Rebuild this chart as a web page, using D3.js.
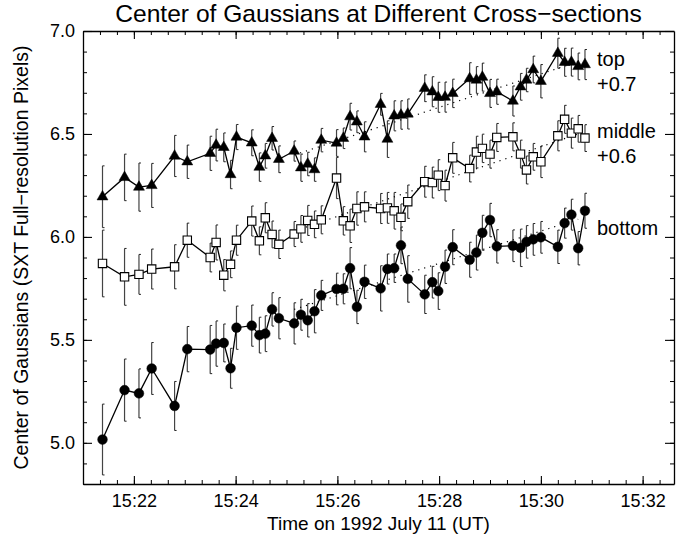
<!DOCTYPE html>
<html>
<head>
<meta charset="utf-8">
<script src="https://cdn.jsdelivr.net/npm/d3@7"></script>
<style>
  body { margin: 0; background: #fff; }
  text { font-family: "Liberation Sans", Arial, Helvetica, sans-serif; fill: #000; }
</style>
</head>
<body>
<svg id="chart" width="683" height="536"></svg>
<script>
// observation times (UT, 1992 July 11)
const times = [
  "15:21:23", "15:21:49", "15:22:06", "15:22:21", "15:22:48", "15:23:03", "15:23:30", "15:23:37",
  "15:23:46", "15:23:54", "15:24:01", "15:24:19", "15:24:28", "15:24:35", "15:24:43", "15:24:51",
  "15:25:09", "15:25:17", "15:25:25", "15:25:33", "15:25:41", "15:25:59", "15:26:07", "15:26:15",
  "15:26:23", "15:26:32", "15:26:51", "15:26:59", "15:27:07", "15:27:15", "15:27:23", "15:27:43",
  "15:27:52", "15:27:59", "15:28:07", "15:28:16", "15:28:36", "15:28:44", "15:28:51", "15:29:00",
  "15:29:08", "15:29:27", "15:29:36", "15:29:43", "15:29:51", "15:30:00", "15:30:20", "15:30:28",
  "15:30:36", "15:30:44", "15:30:52"
];

// centre of gaussians, raw values (offsets added when drawn)
const topVals = [
  5.495, 5.589, 5.542, 5.550, 5.693, 5.665, 5.706, 5.746, 5.735, 5.603, 5.785, 5.757, 5.639,
  5.694, 5.779, 5.677, 5.717, 5.636, 5.654, 5.627, 5.770, 5.756, 5.779, 5.884, 5.859, 5.786,
  5.944, 5.775, 5.888, 5.892, 5.897, 6.022, 6.005, 5.978, 5.979, 5.997, 6.069, 6.062, 6.076,
  5.997, 6.005, 5.960, 6.029, 6.062, 6.113, 6.056, 6.192, 6.148, 6.149, 6.128, 6.137
];
const middleVals = [
  5.271, 5.206, 5.218, 5.244, 5.255, 5.384, 5.300, 5.373, 5.214, 5.267, 5.384, 5.477, 5.381,
  5.493, 5.412, 5.364, 5.414, 5.439, 5.480, 5.461, 5.483, 5.686, 5.478, 5.454, 5.538, 5.546,
  5.538, 5.541, 5.527, 5.495, 5.571, 5.668, 5.664, 5.700, 5.649, 5.784, 5.732, 5.812, 5.830,
  5.802, 5.883, 5.886, 5.802, 5.725, 5.789, 5.765, 5.891, 5.971, 5.904, 5.925, 5.880
];
const bottomVals = [
  5.016, 5.256, 5.240, 5.361, 5.179, 5.455, 5.453, 5.482, 5.485, 5.362, 5.559, 5.569, 5.523,
  5.530, 5.648, 5.605, 5.580, 5.622, 5.595, 5.639, 5.716, 5.747, 5.748, 5.848, 5.660, 5.782,
  5.750, 5.844, 5.848, 5.959, 5.796, 5.721, 5.780, 5.737, 5.855, 5.950, 5.889, 5.924, 6.020,
  6.082, 5.954, 5.957, 5.947, 5.976, 5.988, 5.998, 5.952, 6.067, 6.108, 5.945, 6.127
];

// 1-sigma errors
const topErr = [
  .150, .113, .117, .107, .100, .081, .083, .077, .070, .069, .061, .063, .069, .060, .057, .065,
  .049, .066, .057, .057, .057, .065, .050, .065, .053, .073, .053, .089, .073, .069, .073, .065,
  .073, .073, .073, .069, .077, .065, .068, .068, .061, .073, .065, .057, .065, .081, .073, .068,
  .068, .065, .073
];
const middleErr = [
  .162, .138, .097, .097, .107, .083, .070, .085, .076, .065, .073, .073, .068, .073, .065, .069,
  .061, .065, .073, .065, .068, .100, .069, .081, .081, .073, .073, .075, .089, .065, .081, .075,
  .075, .075, .075, .075, .065, .077, .069, .068, .068, .068, .068, .068, .065, .077, .073, .068,
  .073, .065, .065
];
const bottomErr = [
  .172, .151, .119, .126, .119, .110, .117, .110, .092, .097, .105, .100, .087, .087, .081, .100,
  .100, .075, .081, .105, .073, .077, .073, .100, .081, .081, .110, .073, .069, .089, .113, .093,
  .077, .089, .081, .085, .085, .085, .085, .081, .081, .077, .091, .079, .077, .077, .081, .073,
  .075, .081, .085
];

// linear fits (dotted), raw values at start and end time
const fitTimes = ["15:25:09", "15:30:44"];
const topFit = [5.698, 6.151];
const middleFit = [5.428, 5.900];
const bottomFit = [5.648, 6.086];

const topOffset = 0.7;
const middleOffset = 0.6;

const yTicks = [5.0, 5.5, 6.0, 6.5, 7.0];

const parse = d3.timeParse("%H:%M:%S");

let margin = { left: 83, right: 9, top: 31, bottom: 52 };
let width = 683, height = 536;

let svg = d3.select("#chart");

let x = d3.scaleTime()
  .domain([parse("15:21:00"), parse("15:32:37")])
  .range([margin.left, width - margin.right]);

let y = d3.scaleLinear()
  .domain([4.8, 7.0])
  .range([height - margin.bottom, margin.top]);

let x0 = margin.left, x1 = width - margin.right;
let y0 = height - margin.bottom, y1 = margin.top;

// ticks
let majorX = d3.timeMinute.every(2).range(parse("15:21:00"), parse("15:33:00"));
let minorX = d3.timeSecond.every(20).range(parse("15:21:00"), parse("15:32:38"));
let minorY = d3.range(48, 71).map(d => d / 10);

function styleAxis(g) {
  g.select(".domain").attr("stroke", "#000").attr("stroke-width", 1.3);
  g.selectAll(".tick line").attr("stroke", "#000").attr("stroke-width", 1.1);
  g.selectAll(".tick text")
    .attr("font-size", 18)
    .attr("font-family", "Liberation Sans, Arial, sans-serif")
    .attr("fill", "#000");
}

function minorAxis(axis, transform) {
  svg.append("g")
    .attr("transform", transform)
    .call(axis.tickSize(-4).tickSizeOuter(0).tickFormat(""))
    .call(g => g.select(".domain").remove())
    .call(g => g.selectAll(".tick line").attr("stroke", "#000").attr("stroke-width", 1));
}

minorAxis(d3.axisBottom(x).tickValues(minorX), `translate(0,${y0})`);
minorAxis(d3.axisTop(x).tickValues(minorX), `translate(0,${y1})`);
minorAxis(d3.axisLeft(y).tickValues(minorY), `translate(${x0},0)`);
minorAxis(d3.axisRight(y).tickValues(minorY), `translate(${x1},0)`);

svg.append("g")
  .attr("transform", `translate(0,${y0})`)
  .call(d3.axisBottom(x).tickValues(majorX).tickSize(-8).tickSizeOuter(0)
    .tickPadding(10).tickFormat(d3.timeFormat("%H:%M")))
  .call(styleAxis);

svg.append("g")
  .attr("transform", `translate(0,${y1})`)
  .call(d3.axisTop(x).tickValues(majorX).tickSize(-8).tickSizeOuter(0).tickFormat(""))
  .call(styleAxis);

svg.append("g")
  .attr("transform", `translate(${x0},0)`)
  .call(d3.axisLeft(y).tickValues(yTicks).tickSize(-9).tickSizeOuter(0)
    .tickPadding(8).tickFormat(d3.format(".1f")))
  .call(styleAxis);

svg.append("g")
  .attr("transform", `translate(${x1},0)`)
  .call(d3.axisRight(y).tickValues(yTicks).tickSize(-9).tickSizeOuter(0).tickFormat(""))
  .call(styleAxis);

// series
let series = [
  { vals: topVals, err: topErr, fit: topFit, off: topOffset, marker: "triangle" },
  { vals: middleVals, err: middleErr, fit: middleFit, off: middleOffset, marker: "square" },
  { vals: bottomVals, err: bottomErr, fit: bottomFit, off: 0, marker: "circle" }
];

let line = d3.line()
  .x(d => x(d.t))
  .y(d => y(d.v));

series.forEach(s => {
  let pts = times.map((t, i) => ({ t: parse(t), v: s.vals[i] + s.off, e: s.err[i] }));
  let g = svg.append("g");

  // error bars
  g.selectAll("line.err")
    .data(pts)
    .enter()
    .append("line")
    .attr("class", "err")
    .attr("x1", d => x(d.t))
    .attr("x2", d => x(d.t))
    .attr("y1", d => y(d.v - d.e))
    .attr("y2", d => y(d.v + d.e))
    .attr("stroke", "#444")
    .attr("stroke-width", 1.2);

  g.selectAll("path.cap")
    .data(pts)
    .enter()
    .append("path")
    .attr("class", "cap")
    .attr("d", d => {
      let cx = x(d.t);
      return `M${cx},${y(d.v - d.e)}h2M${cx},${y(d.v + d.e)}h2`;
    })
    .attr("stroke", "#222")
    .attr("stroke-width", 1);

  // dotted fit
  let fitPts = fitTimes.map((t, i) => ({ t: parse(t), v: s.fit[i] + s.off }));
  g.append("path")
    .datum(fitPts)
    .attr("d", line)
    .attr("fill", "none")
    .attr("stroke", "#000")
    .attr("stroke-width", 1.2)
    .attr("stroke-dasharray", "1.2,5");

  // connecting line
  g.append("path")
    .datum(pts)
    .attr("d", line)
    .attr("fill", "none")
    .attr("stroke", "#000")
    .attr("stroke-width", 1.3);

  let sym = s.marker === "triangle" ? d3.symbolTriangle
    : s.marker === "square" ? d3.symbolSquare : d3.symbolCircle;
  let size = s.marker === "triangle" ? 52 : s.marker === "square" ? 70 : 74;

  g.selectAll("path.mark")
    .data(pts)
    .enter()
    .append("path")
    .attr("class", "mark")
    .attr("transform", d => `translate(${x(d.t)},${y(d.v)})`)
    .attr("d", d3.symbol().type(sym).size(size))
    .attr("fill", s.marker === "square" ? "#fff" : "#000")
    .attr("stroke", "#000")
    .attr("stroke-width", s.marker === "square" ? 1.1 : 0.5);
});

// series labels
let labels = [
  { text: "top", v: 6.83 },
  { text: "+0.7", v: 6.71 },
  { text: "middle", v: 6.48 },
  { text: "+0.6", v: 6.36 },
  { text: "bottom", v: 6.01 }
];
svg.selectAll("text.lab")
  .data(labels)
  .enter()
  .append("text")
  .attr("class", "lab")
  .attr("x", 597)
  .attr("y", d => y(d.v))
  .attr("font-size", 20)
  .text(d => d.text);

// titles
svg.append("text")
  .attr("x", (x0 + x1) / 2)
  .attr("y", 22)
  .attr("text-anchor", "middle")
  .attr("font-size", 24.6)
  .text("Center of Gaussians at Different Cross\u2212sections");

svg.append("text")
  .attr("x", (x0 + x1) / 2)
  .attr("y", 530)
  .attr("text-anchor", "middle")
  .attr("font-size", 19)
  .text("Time on 1992 July 11 (UT)");

svg.append("text")
  .attr("transform", `translate(28,${(y0 + y1) / 2}) rotate(-90)`)
  .attr("text-anchor", "middle")
  .attr("font-size", 19.5)
  .text("Center of Gaussians (SXT Full\u2212resolution Pixels)");
</script>
</body>
</html>
